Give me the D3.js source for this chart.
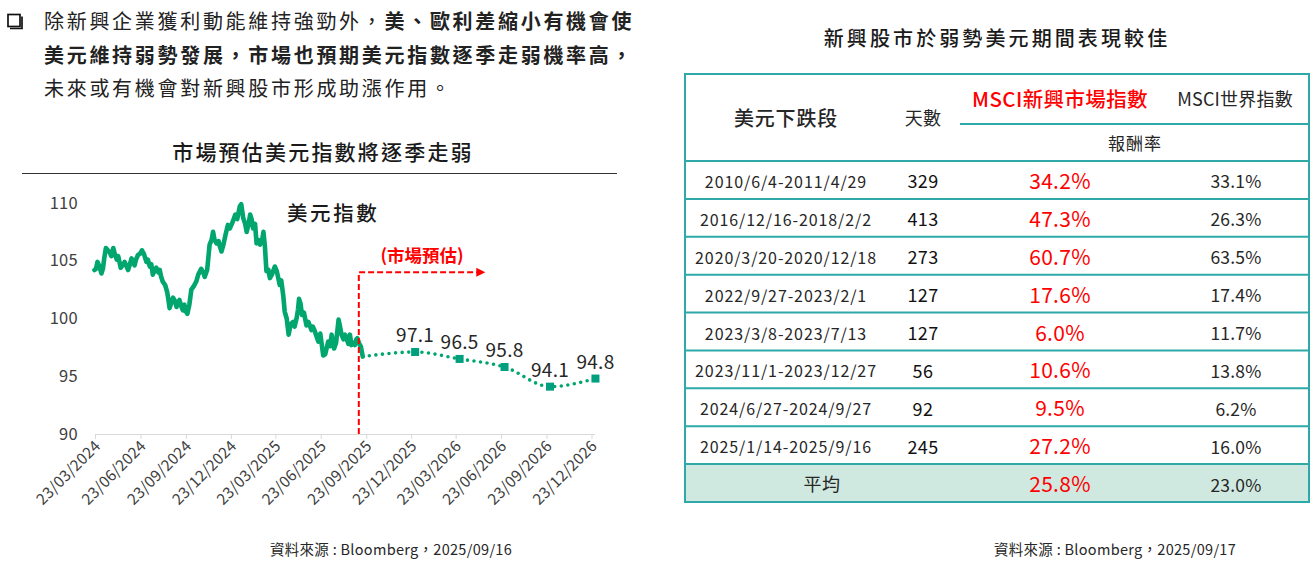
<!DOCTYPE html>
<html><head><meta charset="utf-8">
<script src="https://cdn.jsdelivr.net/npm/d3@7"></script>
<style>
body{margin:0;background:#fff}
svg{display:block;font-family:"Noto Sans CJK TC","Noto Sans",sans-serif}
</style>
</head><body><svg id="c" width="1311" height="562"></svg>
<script>
// ---------- DATA ----------
const actualDates = [
"2024-03-22","2024-03-25","2024-03-28","2024-04-01","2024-04-05","2024-04-08","2024-04-11","2024-04-14","2024-04-18","2024-04-22",
"2024-04-25","2024-04-29","2024-05-02","2024-05-06","2024-05-09","2024-05-14","2024-05-18","2024-05-22","2024-05-25","2024-05-29",
"2024-06-01","2024-06-05","2024-06-08","2024-06-11","2024-06-14","2024-06-18","2024-06-22","2024-06-26","2024-06-30","2024-07-05",
"2024-07-08","2024-07-12","2024-07-15","2024-07-18","2024-07-22","2024-07-25","2024-07-29","2024-08-01","2024-08-04","2024-08-07",
"2024-08-12","2024-08-16","2024-08-18","2024-08-21","2024-08-24","2024-08-28","2024-09-01","2024-09-04","2024-09-07","2024-09-10",
"2024-09-14","2024-09-17","2024-09-20","2024-09-23","2024-09-26","2024-09-30","2024-10-04","2024-10-09","2024-10-14","2024-10-18",
"2024-10-24","2024-10-28","2024-10-31","2024-11-05","2024-11-10","2024-11-14","2024-11-17","2024-11-20","2024-11-24","2024-11-28",
"2024-12-01","2024-12-04","2024-12-08","2024-12-12","2024-12-17","2024-12-21","2024-12-27","2025-01-01","2025-01-05","2025-01-10",
"2025-01-13","2025-01-17","2025-01-21","2025-01-24","2025-01-28","2025-01-31","2025-02-03","2025-02-06","2025-02-10","2025-02-13",
"2025-02-17","2025-02-20","2025-02-24","2025-02-27","2025-03-02","2025-03-05","2025-03-09","2025-03-12","2025-03-16","2025-03-22",
"2025-03-26","2025-04-01","2025-04-04","2025-04-08","2025-04-11","2025-04-15","2025-04-19","2025-04-23","2025-04-28","2025-05-01",
"2025-05-05","2025-05-08","2025-05-10","2025-05-13","2025-05-16","2025-05-20","2025-05-25","2025-05-29","2025-06-04","2025-06-07",
"2025-06-11","2025-06-14","2025-06-18","2025-06-22","2025-06-28","2025-07-02","2025-07-08","2025-07-12","2025-07-15","2025-07-20",
"2025-07-24","2025-07-29","2025-08-01","2025-08-04","2025-08-08","2025-08-11","2025-08-14","2025-08-18","2025-08-21","2025-08-24",
"2025-08-27","2025-08-31","2025-09-03","2025-09-05","2025-09-09","2025-09-12","2025-09-16"];
const actualValues = [
104.2,104.3,104.9,104.5,103.9,104.3,105.3,106.1,105.9,105.7,
105.4,106.1,105.6,105.1,105.4,104.4,104.6,104.9,104.6,104.2,
104.6,105.2,104.9,104.6,105.1,105.5,105.6,105.9,105.6,104.9,
105.1,104.5,104.7,103.8,104.2,104.4,104.0,104.2,103.6,103.2,
102.9,102.3,101.8,100.9,101.3,101.8,101.5,101.0,101.4,101.6,
101.0,100.7,101.2,100.6,100.4,101.2,102.5,102.8,103.2,103.8,
104.3,104.0,103.6,104.2,106.4,106.8,107.5,106.8,106.5,106.7,
106.2,105.8,106.4,107.2,108.1,107.8,108.4,109.0,108.6,109.7,
109.9,108.7,108.2,107.5,108.2,109.0,108.6,107.8,108.2,106.5,
106.8,106.4,106.7,107.5,106.2,104.1,104.2,103.5,103.8,104.5,
104.1,102.9,103.3,102.0,100.6,100.0,98.6,99.5,99.7,99.3,
100.0,100.8,101.7,101.3,100.3,100.5,99.4,99.7,99.0,99.3,
98.9,98.5,98.0,98.7,96.8,96.9,98.0,97.6,98.6,97.4,
97.9,99.9,99.3,98.6,98.2,98.6,98.3,97.8,98.6,97.7,
97.9,97.7,98.2,98.3,97.8,97.6,96.7];
const forecastDates = ["2025-12-31","2026-03-31","2026-06-30","2026-09-30","2026-12-31"];
const forecastValues = [97.1,96.5,95.8,94.1,94.8];
const dividerDate = "2025-09-08";
const arrowEndDate = "2026-05-22";
const arrowLevel = 104;
const yTicks = [90,95,100,105,110];
const xTickDates = ["2024-03-23","2024-06-23","2024-09-23","2024-12-23","2025-03-23","2025-06-23","2025-09-23","2025-12-23","2026-03-23","2026-06-23","2026-09-23","2026-12-23"];

const periods = ["2010/6/4-2011/4/29","2016/12/16-2018/2/2","2020/3/20-2020/12/18","2022/9/27-2023/2/1","2023/3/8-2023/7/13","2023/11/1-2023/12/27","2024/6/27-2024/9/27","2025/1/14-2025/9/16"];
const dayCounts = [329,413,273,127,127,56,92,245];
const emReturns = [34.2,47.3,60.7,17.6,6.0,10.6,9.5,27.2];
const worldReturns = [33.1,26.3,63.5,17.4,11.7,13.8,6.2,16.0];
const avgLabel = "平均";
const emAvg = 25.8, worldAvg = 23.0;

// ---------- SETUP ----------
const svg = d3.select("#c");
const parse = d3.timeParse("%Y-%m-%d");
const fmt = d3.timeFormat("%d/%m/%Y");
const GREEN = "#00A66E", SQ = "#00A07F", RED = "#FF0000", TEAL = "#2EA9A8", TXT = "#262626";

// intro text
svg.append("rect").attr("x",8).attr("y",14.5).attr("width",12).attr("height",12)
  .attr("fill","none").attr("stroke","#111").attr("stroke-width",1.7);
svg.append("path").attr("d","M10 28.5H22V16.5").attr("fill","none").attr("stroke","#111").attr("stroke-width",1.7);

const intro = [
  [["除新興企業獲利動能維持強勁外，",400],["美、歐利差縮小有機會使",700]],
  [["美元維持弱勢發展，市場也預期美元指數逐季走弱機率高，",700]],
  [["未來或有機會對新興股市形成助漲作用。",400]]
];
intro.forEach((line,i)=>{
  const t = svg.append("text").attr("x",44).attr("y",29+i*33.5)
    .attr("font-size",20).attr("letter-spacing",2.7).attr("fill","#222");
  line.forEach(([s,w])=>t.append("tspan").attr("font-weight",w).text(s));
});

// chart title
svg.append("text").attr("x",323).attr("y",160).attr("text-anchor","middle")
  .attr("font-size",21).attr("letter-spacing",2.2).attr("fill","#1a1a1a").attr("font-weight",500)
  .text("市場預估美元指數將逐季走弱");
svg.append("line").attr("x1",22).attr("x2",617).attr("y1",173.5).attr("y2",173.5)
  .attr("stroke","#333").attr("stroke-width",1);

// scales
const x = d3.scaleTime().domain([parse(xTickDates[0]), parse(xTickDates[xTickDates.length-1])]).range([95,591.5]);
const y = d3.scaleLinear().domain([90,110]).range([434,203]);

// y labels
svg.append("g").selectAll("text").data(yTicks).join("text")
  .attr("x",78).attr("y",d=>y(d)+5.5).attr("text-anchor","end")
  .attr("font-size",16.5).attr("letter-spacing",0.3).attr("fill","#404040").text(d=>d);

// x axis
const xAxis = d3.axisBottom(x).tickValues(xTickDates.map(parse)).tickSize(5).tickFormat(fmt);
const gx = svg.append("g").attr("transform","translate(0,434)").call(xAxis);
gx.select(".domain").attr("stroke","#d9d9d9").attr("d","M95,0.5H595");
gx.selectAll(".tick line").attr("stroke","#d9d9d9");
gx.selectAll(".tick text").attr("font-size",15.5).attr("fill","#404040").attr("letter-spacing",0.2)
  .attr("font-family",'"Noto Sans CJK TC",sans-serif')
  .attr("text-anchor","end").attr("dy",0).attr("y",0)
  .attr("transform","translate(6,13) rotate(-45)");

// series label
svg.append("text").attr("x",287).attr("y",221).attr("font-size",20.5).attr("font-weight",500)
  .attr("letter-spacing",2.6).attr("fill","#1a1a1a").text("美元指數");

// actual line
const actual = actualDates.map((d,i)=>({date:parse(d),v:actualValues[i]}));
svg.append("path").datum(actual).attr("fill","none").attr("stroke",GREEN)
  .attr("stroke-width",4.6).attr("stroke-linejoin","round").attr("stroke-linecap","round")
  .attr("d",d3.line().x(d=>x(d.date)).y(d=>y(d.v)));

// forecast
const fc = forecastDates.map((d,i)=>({date:parse(d),v:forecastValues[i]}));
const fcLine = [actual[actual.length-1], ...fc];
svg.append("path").datum(fcLine).attr("fill","none").attr("stroke",GREEN)
  .attr("stroke-width",3.6).attr("stroke-linecap","round").attr("stroke-dasharray","0 6.6")
  .attr("d",d3.line().curve(d3.curveMonotoneX).x(d=>x(d.date)).y(d=>y(d.v)));
svg.append("g").selectAll("rect").data(fc).join("rect")
  .attr("x",d=>x(d.date)-4).attr("y",d=>y(d.v)-4).attr("width",8).attr("height",8).attr("fill",SQ);
svg.append("g").selectAll("text").data(fc).join("text")
  .attr("x",d=>x(d.date)).attr("y",d=>y(d.v)-10).attr("text-anchor","middle")
  .attr("font-size",19).attr("letter-spacing",0.3).attr("fill","#262626").text(d=>d.v.toFixed(1));

// red annotation
const dx = x(parse(dividerDate)), ax = x(parse(arrowEndDate)), ay = y(arrowLevel);
svg.append("path").attr("d",`M${dx},${y(90)}V${ay}H${ax-8}`).attr("fill","none")
  .attr("stroke",RED).attr("stroke-width",2).attr("stroke-dasharray","6 3");
svg.append("path").attr("d",`M${ax-9},${ay-4.5}L${ax},${ay}L${ax-9},${ay+4.5}Z`).attr("fill",RED);
svg.append("text").attr("x",(dx+ax)/2).attr("y",ay-10).attr("text-anchor","middle")
  .attr("font-size",17.5).attr("font-weight",700).attr("fill",RED).text("(市場預估)");

// source left
svg.append("text").attr("x",391).attr("y",555).attr("text-anchor","middle").attr("font-size",14.5)
  .attr("letter-spacing",0.3).attr("fill","#262626").text("資料來源 : Bloomberg，2025/09/16");

// ---------- TABLE ----------
svg.append("text").attr("x",997).attr("y",46).attr("text-anchor","middle").attr("font-size",20)
  .attr("letter-spacing",3.1).attr("font-weight",500).attr("fill","#1a1a1a").text("新興股市於弱勢美元期間表現較佳");

const T = {l:684, r:1310, t:73, hb:161, b:502};
const rows = d3.scaleBand().domain(d3.range(periods.length+1)).range([T.hb,T.b]);
const col = {date:786, days:923, em:1060, world:1236};

svg.append("rect").attr("x",T.l).attr("y",rows(periods.length)).attr("width",T.r-T.l).attr("height",rows.bandwidth())
  .attr("fill","#CFE9E1");

const tg = svg.append("g");
tg.selectAll("line.row").data(d3.range(1,periods.length+1)).join("line")
  .attr("x1",T.l).attr("x2",T.r).attr("y1",d=>rows(d)).attr("y2",d=>rows(d))
  .attr("stroke",TEAL).attr("stroke-width",2);
tg.append("line").attr("x1",T.l).attr("x2",T.r).attr("y1",T.hb).attr("y2",T.hb).attr("stroke",TEAL).attr("stroke-width",2);
tg.append("line").attr("x1",960).attr("x2",T.r).attr("y1",124).attr("y2",124).attr("stroke",TEAL).attr("stroke-width",2);
tg.append("rect").attr("x",T.l+1).attr("y",T.t+1).attr("width",T.r-T.l-2).attr("height",T.b-T.t-1)
  .attr("fill","none").attr("stroke",TEAL).attr("stroke-width",2);

// header
const hdr = [
  {t:"美元下跌段",x:col.date,y:126,s:20,c:TXT,w:500,ls:0.8},
  {t:"天數",x:col.days,y:125,s:18,c:TXT,w:400,ls:0.3},
  {t:"MSCI新興市場指數",x:1060,y:107,s:20.5,c:RED,w:500,ls:0.4},
  {t:"MSCI世界指數",x:1235,y:106,s:18,c:TXT,w:400,ls:0.2},
  {t:"報酬率",x:1135,y:150,s:17,c:TXT,w:400,ls:1}
];
svg.append("g").selectAll("text").data(hdr).join("text")
  .attr("x",d=>d.x).attr("y",d=>d.y).attr("text-anchor","middle").attr("font-size",d=>d.s)
  .attr("letter-spacing",d=>d.ls)
  .attr("font-weight",d=>d.w).attr("fill",d=>d.c).text(d=>d.t);

const rowData = periods.map((p,i)=>({p,d:dayCounts[i],em:emReturns[i],w:worldReturns[i],i}));
const rg = svg.append("g").selectAll("g").data(rowData).join("g")
  .attr("transform",d=>`translate(0,${rows(d.i)+rows.bandwidth()/2})`);
rg.append("text").attr("x",col.date).attr("y",8).attr("text-anchor","middle").attr("font-size",16)
  .attr("letter-spacing",0.9).attr("fill",TXT).text(d=>d.p);
rg.append("text").attr("x",col.days).attr("y",8.5).attr("text-anchor","middle").attr("font-size",18)
  .attr("letter-spacing",0.4).attr("fill","#111").text(d=>d.d);
rg.append("text").attr("x",col.em).attr("y",9).attr("text-anchor","middle").attr("font-size",21)
  .attr("letter-spacing",0.3).attr("fill",RED).text(d=>d.em.toFixed(1)+"%");
rg.append("text").attr("x",col.world).attr("y",8.5).attr("text-anchor","middle").attr("font-size",17.5)
  .attr("letter-spacing",0.2).attr("fill",TXT).text(d=>d.w.toFixed(1)+"%");

const avgY = rows(periods.length)+rows.bandwidth()/2;
svg.append("text").attr("x",(T.l+960)/2).attr("y",avgY+8).attr("text-anchor","middle").attr("font-size",18)
  .attr("letter-spacing",0.5).attr("fill",TXT).text(avgLabel);
svg.append("text").attr("x",col.em).attr("y",avgY+9).attr("text-anchor","middle").attr("font-size",21)
  .attr("letter-spacing",0.3).attr("fill",RED).text(emAvg.toFixed(1)+"%");
svg.append("text").attr("x",col.world).attr("y",avgY+8.5).attr("text-anchor","middle").attr("font-size",17.5)
  .attr("letter-spacing",0.2).attr("fill",TXT).text(worldAvg.toFixed(1)+"%");

svg.append("text").attr("x",1115).attr("y",555).attr("text-anchor","middle").attr("font-size",14.5)
  .attr("letter-spacing",0.3).attr("fill","#262626").text("資料來源 : Bloomberg，2025/09/17");
</script>
</body></html>
